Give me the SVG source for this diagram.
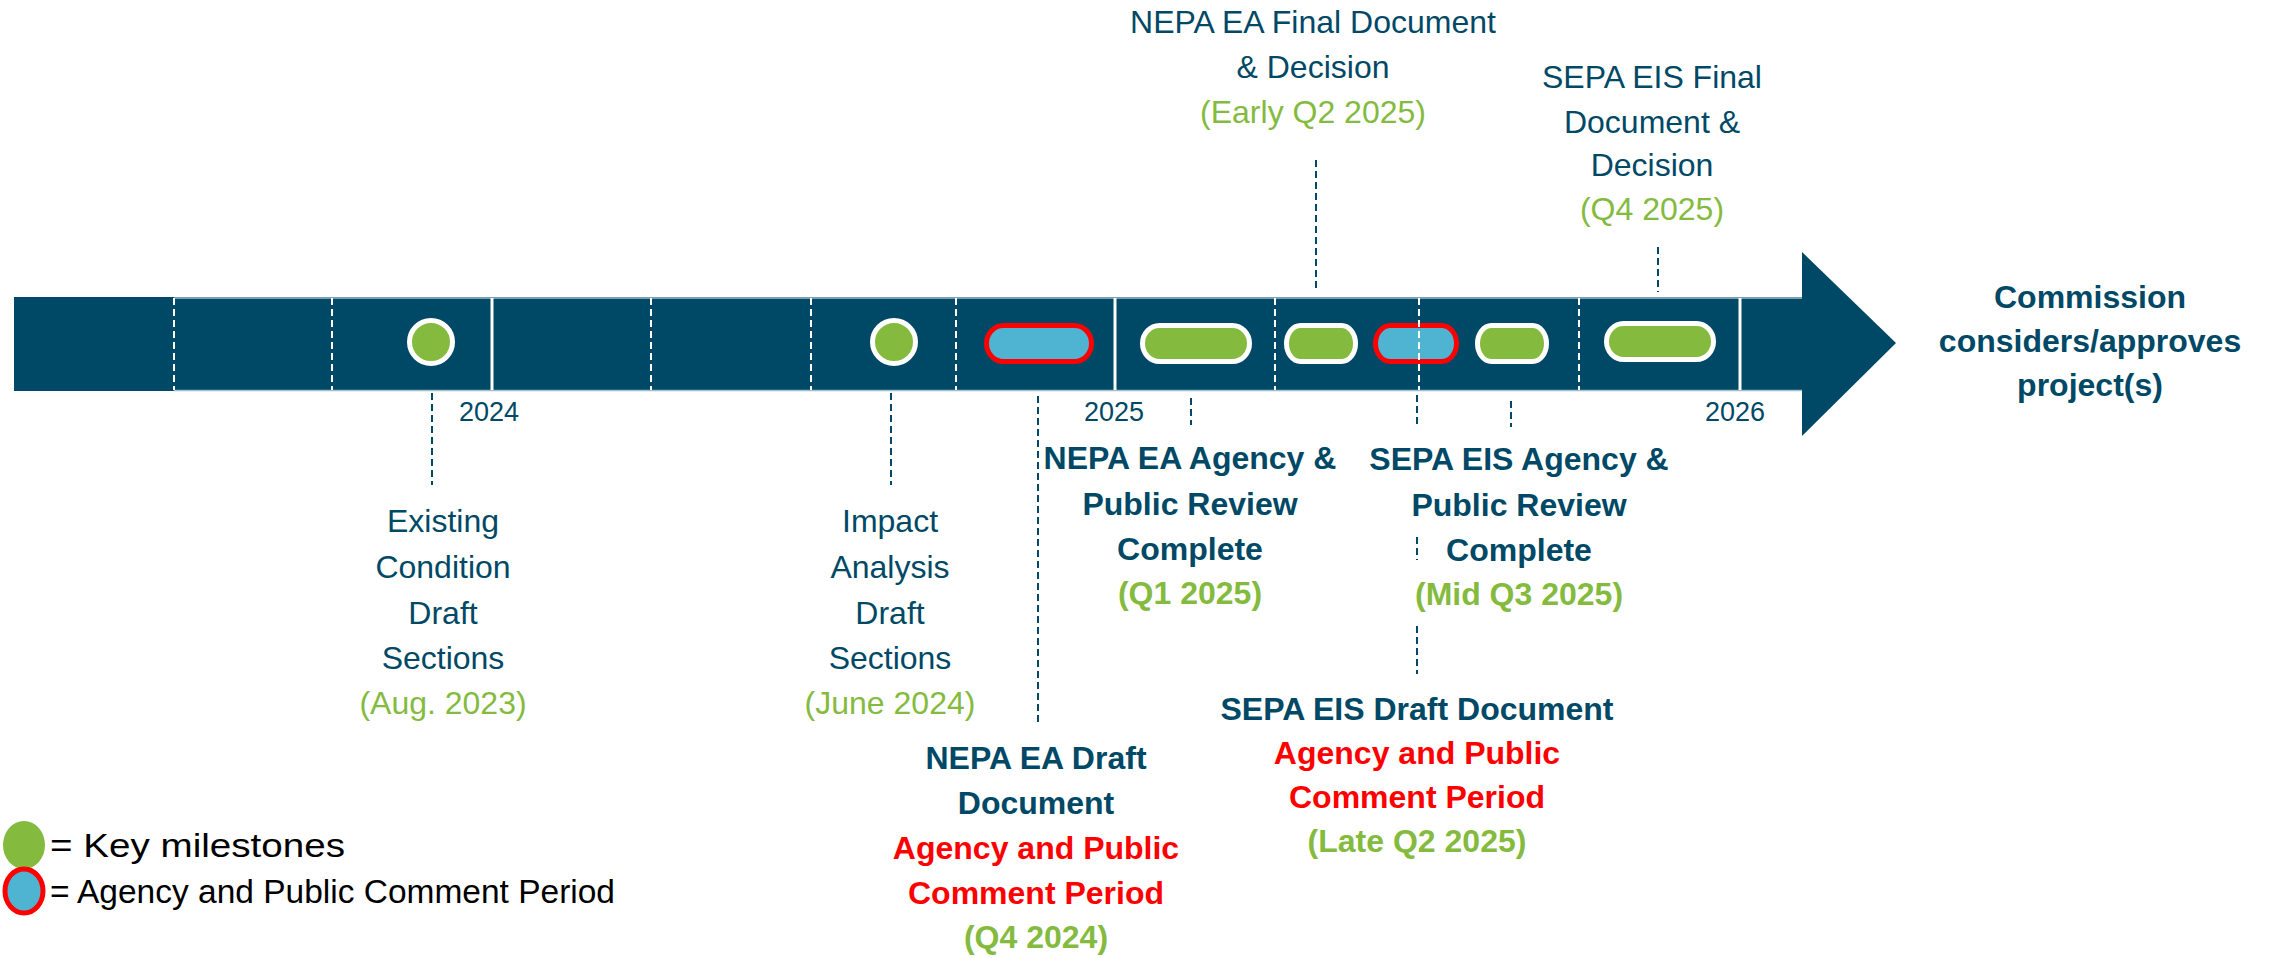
<svg xmlns="http://www.w3.org/2000/svg" width="2269" height="958" viewBox="0 0 2269 958">
<style>
text{font-family:"Liberation Sans",Arial,sans-serif;font-size:32px;text-anchor:middle}
.t{fill:#004966}
.b{font-weight:bold}
.g{fill:#84BB3F}
.r{fill:#FF0000}
.yr{font-size:27px;fill:#004966}
.lg{fill:#000;text-anchor:start;font-size:34px}
.div{stroke:#FFFFFF;stroke-width:2;stroke-dasharray:7 4}
.sol{stroke:#FFFFFF;stroke-width:3}
.lead{stroke:#004966;stroke-width:2;stroke-dasharray:7 4;fill:none}
.ms{fill:#84BB3F;stroke:#FFFFFF;stroke-width:5}
.cp{fill:#4FB3D2;stroke:#FF0000;stroke-width:5}
</style>
<rect width="2269" height="958" fill="#FFFFFF"/>
<g id="timeline-bar">
<rect x="14" y="297" width="1790" height="94" fill="#004966"/>
<polygon points="1802,252 1896,343 1802,436" fill="#004966"/>
<line x1="174" y1="298" x2="1802" y2="298" stroke="#9FBFCC" stroke-width="1.5"/>
<line x1="174" y1="390.5" x2="1802" y2="390.5" stroke="#9FBFCC" stroke-width="1.5"/>
</g>
<g id="markers">
<circle cx="431" cy="342" r="21.5" class="ms"/>
<circle cx="894" cy="342" r="21.5" class="ms"/>
<rect x="986.5" y="325.5" width="105" height="36" rx="17" ry="18" class="cp"/>
<rect x="1142.5" y="325.5" width="107" height="36" rx="17" ry="18" class="ms"/>
<rect x="1286.5" y="325.5" width="69" height="36" rx="14" ry="18" class="ms"/>
<rect x="1375.5" y="325.5" width="81" height="36" rx="15" ry="18" class="cp"/>
<rect x="1477.5" y="325.5" width="69" height="36" rx="14" ry="18" class="ms"/>
<rect x="1606.5" y="323.5" width="107" height="36" rx="17" ry="18" class="ms"/>
</g>
<g id="dividers">
<line x1="174" y1="298" x2="174" y2="390" class="div"/>
<line x1="332" y1="298" x2="332" y2="390" class="div"/>
<line x1="492" y1="298" x2="492" y2="390" class="sol"/>
<line x1="651" y1="298" x2="651" y2="390" class="div"/>
<line x1="811" y1="298" x2="811" y2="390" class="div"/>
<line x1="956" y1="298" x2="956" y2="390" class="div"/>
<line x1="1115" y1="298" x2="1115" y2="390" class="sol"/>
<line x1="1275" y1="298" x2="1275" y2="390" class="div"/>
<line x1="1419" y1="298" x2="1419" y2="390" class="div"/>
<line x1="1579" y1="298" x2="1579" y2="390" class="div"/>
<line x1="1740" y1="298" x2="1740" y2="390" class="sol"/>
</g>
<g id="connectors">
<line x1="1316" y1="160" x2="1316" y2="292" class="lead"/>
<line x1="1658" y1="247" x2="1658" y2="292" class="lead"/>
<line x1="432" y1="393" x2="432" y2="485" class="lead"/>
<line x1="891" y1="393" x2="891" y2="485" class="lead"/>
<line x1="1038" y1="396" x2="1038" y2="724" class="lead"/>
<line x1="1191" y1="398" x2="1191" y2="425" class="lead"/>
<line x1="1417" y1="395" x2="1417" y2="424" class="lead"/>
<line x1="1417" y1="537" x2="1417" y2="560" class="lead"/>
<line x1="1417" y1="626" x2="1417" y2="674" class="lead"/>
<line x1="1511" y1="401" x2="1511" y2="427" class="lead"/>
</g>
<g id="year-labels">
<text x="489" y="421" class="yr">2024</text>
<text x="1114" y="421" class="yr">2025</text>
<text x="1735" y="421" class="yr">2026</text>
</g>
<g id="nepa-ea-final">
<text x="1313" y="33" class="t">NEPA EA Final Document</text>
<text x="1313" y="78" class="t">&amp; Decision</text>
<text x="1313" y="123" class="g">(Early Q2 2025)</text>
</g>
<g id="sepa-eis-final">
<text x="1652" y="88" class="t">SEPA EIS Final</text>
<text x="1652" y="133" class="t">Document &amp;</text>
<text x="1652" y="176" class="t">Decision</text>
<text x="1652" y="220" class="g">(Q4 2025)</text>
</g>
<g id="existing-condition">
<text x="443" y="532" class="t">Existing</text>
<text x="443" y="578" class="t">Condition</text>
<text x="443" y="624" class="t">Draft</text>
<text x="443" y="669" class="t">Sections</text>
<text x="443" y="714" class="g">(Aug. 2023)</text>
</g>
<g id="impact-analysis">
<text x="890" y="532" class="t">Impact</text>
<text x="890" y="578" class="t">Analysis</text>
<text x="890" y="624" class="t">Draft</text>
<text x="890" y="669" class="t">Sections</text>
<text x="890" y="714" class="g">(June 2024)</text>
</g>
<g id="nepa-ea-review">
<text x="1190" y="469" class="t b">NEPA EA Agency &amp;</text>
<text x="1190" y="515" class="t b">Public Review</text>
<text x="1190" y="560" class="t b">Complete</text>
<text x="1190" y="604" class="g b">(Q1 2025)</text>
</g>
<g id="sepa-eis-review">
<text x="1519" y="470" class="t b">SEPA EIS Agency &amp;</text>
<text x="1519" y="516" class="t b">Public Review</text>
<text x="1519" y="561" class="t b">Complete</text>
<text x="1519" y="605" class="g b">(Mid Q3 2025)</text>
</g>
<g id="sepa-eis-draft">
<text x="1417" y="720" class="t b">SEPA EIS Draft Document</text>
<text x="1417" y="764" class="r b">Agency and Public</text>
<text x="1417" y="808" class="r b">Comment Period</text>
<text x="1417" y="852" class="g b">(Late Q2 2025)</text>
</g>
<g id="nepa-ea-draft">
<text x="1036" y="769" class="t b">NEPA EA Draft</text>
<text x="1036" y="814" class="t b">Document</text>
<text x="1036" y="859" class="r b">Agency and Public</text>
<text x="1036" y="904" class="r b">Comment Period</text>
<text x="1036" y="948" class="g b">(Q4 2024)</text>
</g>
<g id="commission">
<text x="2090" y="308" class="t b">Commission</text>
<text x="2090" y="352" class="t b">considers/approves</text>
<text x="2090" y="396" class="t b">project(s)</text>
</g>
<g id="legend">
<ellipse cx="24" cy="845" rx="21" ry="24" fill="#84BB3F"/>
<ellipse cx="24" cy="891" rx="19" ry="22" fill="#4FB3D2" stroke="#FF0000" stroke-width="5"/>
<text x="50" y="857" class="lg" textLength="295" lengthAdjust="spacingAndGlyphs">= Key milestones</text>
<text x="50" y="903" class="lg" textLength="565" lengthAdjust="spacingAndGlyphs">= Agency and Public Comment Period</text>
</g>
</svg>
